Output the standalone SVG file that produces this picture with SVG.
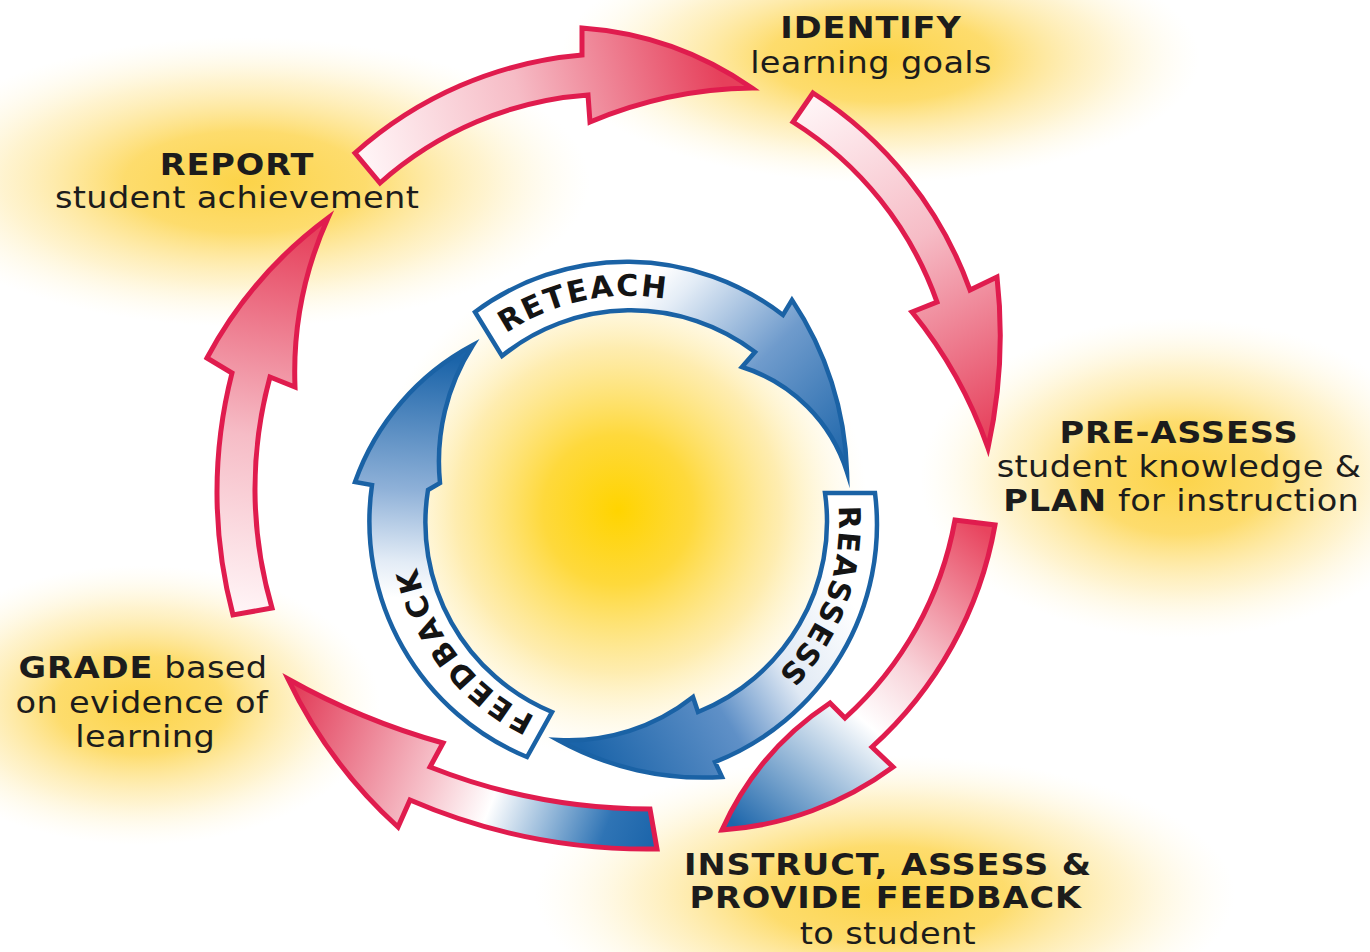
<svg xmlns="http://www.w3.org/2000/svg" width="1370" height="952" viewBox="0 0 1370 952">
<style>
.red{stroke:#e01c4e;stroke-width:5;stroke-linejoin:miter;stroke-miterlimit:10}
.blue{stroke:#1a62a5;stroke-width:4.5;stroke-linejoin:miter;stroke-miterlimit:10}
.lbl{font-family:"DejaVu Sans",Verdana,sans-serif;font-size:30px;fill:#1c1c1c;text-anchor:middle;letter-spacing:0.3px}
.b{font-weight:bold;letter-spacing:0.8px}
.ring{font-family:"DejaVu Sans",Verdana,sans-serif;font-weight:bold;font-size:30px;fill:#141414}
</style>
<defs>
<radialGradient id="glow">
<stop offset="0" stop-color="#fcd13f" stop-opacity="0.95"/>
<stop offset="0.35" stop-color="#fdd653" stop-opacity="0.85"/>
<stop offset="0.7" stop-color="#fee594" stop-opacity="0.45"/>
<stop offset="1" stop-color="#fff6d0" stop-opacity="0"/>
</radialGradient>
<radialGradient id="core">
<stop offset="0" stop-color="#ffd400"/>
<stop offset="0.3" stop-color="#fed93c"/>
<stop offset="0.65" stop-color="#fee89c" stop-opacity="0.8"/>
<stop offset="1" stop-color="#fff8dc" stop-opacity="0"/>
</radialGradient>
<linearGradient id="gTop" gradientUnits="userSpaceOnUse" x1="368" y1="168" x2="720" y2="72">
<stop offset="0" stop-color="#fff4f6"/><stop offset="0.45" stop-color="#f6bcc6"/><stop offset="1" stop-color="#e6405b"/>
</linearGradient>
<linearGradient id="gRight" gradientUnits="userSpaceOnUse" x1="803" y1="107" x2="985" y2="440">
<stop offset="0" stop-color="#fff4f6"/><stop offset="0.45" stop-color="#f6bcc6"/><stop offset="1" stop-color="#e6405b"/>
</linearGradient>
<linearGradient id="gLeft" gradientUnits="userSpaceOnUse" x1="252" y1="612" x2="318" y2="232">
<stop offset="0" stop-color="#fff4f6"/><stop offset="0.45" stop-color="#f6bcc6"/><stop offset="1" stop-color="#e6405b"/>
</linearGradient>
<linearGradient id="gRL" gradientUnits="userSpaceOnUse" x1="985" y1="530" x2="735" y2="825">
<stop offset="0" stop-color="#e8445e"/><stop offset="0.4" stop-color="#f8d4da"/><stop offset="0.58" stop-color="#ffffff"/><stop offset="1" stop-color="#1d66ab"/>
</linearGradient>
<linearGradient id="gBot" gradientUnits="userSpaceOnUse" x1="655" y1="830" x2="295" y2="690">
<stop offset="0" stop-color="#1d66ab"/><stop offset="0.12" stop-color="#2f74b5"/><stop offset="0.42" stop-color="#ffffff"/><stop offset="0.58" stop-color="#f7c6ce"/><stop offset="1" stop-color="#e23d59"/>
</linearGradient>
<linearGradient id="gRet" gradientUnits="userSpaceOnUse" x1="650" y1="280" x2="845" y2="470">
<stop offset="0" stop-color="#ffffff"/><stop offset="0.12" stop-color="#e3ecf6"/><stop offset="0.5" stop-color="#6f9bcc"/><stop offset="1" stop-color="#1b64a9"/>
</linearGradient>
<linearGradient id="gRea" gradientUnits="userSpaceOnUse" x1="850" y1="600" x2="590" y2="760">
<stop offset="0" stop-color="#ffffff"/><stop offset="0.3" stop-color="#e0e9f4"/><stop offset="0.55" stop-color="#5f90c7"/><stop offset="1" stop-color="#1b64a9"/>
</linearGradient>
<linearGradient id="gFee" gradientUnits="userSpaceOnUse" x1="430" y1="600" x2="445" y2="360">
<stop offset="0" stop-color="#ffffff"/><stop offset="0.15" stop-color="#e3ecf6"/><stop offset="0.45" stop-color="#8fb1d8"/><stop offset="1" stop-color="#1b64a9"/>
</linearGradient>
<path id="pRet" d="M411.1,485.4 A220,220 0 0 1 815.6,399.4"/>
<path id="pRea" d="M761.5,356.8 A217,217 0 0 1 622,740"/>
<path id="pFee" d="M694.1,726.3 A215,215 0 0 1 444.3,408.7"/>
</defs>
<rect width="1370" height="952" fill="#ffffff"/>
<g id="background">
<ellipse cx="880" cy="58" rx="320" ry="125" fill="url(#glow)"/>
<ellipse cx="245" cy="182" rx="345" ry="145" fill="url(#glow)"/>
<ellipse cx="1180" cy="478" rx="260" ry="160" fill="url(#glow)"/>
<ellipse cx="140" cy="705" rx="240" ry="140" fill="url(#glow)"/>
<ellipse cx="885" cy="895" rx="350" ry="140" fill="url(#glow)"/>
<circle cx="618" cy="510" r="250" fill="url(#core)"/>
</g>
<g id="connectors">
<path id="arrow-report-identify" class="red" fill="url(#gTop)" d="M355,153 A390,390 0 0 1 582,55 L582,28 A340,340 0 0 1 752,88 A430,430 0 0 0 590,122 L588,95 A350,350 0 0 0 380,183 Z"/>
<path id="arrow-identify-preassess" class="red" fill="url(#gRight)" d="M813,93 A390,390 0 0 1 970,290 L997,277 A525,525 0 0 1 988,448 A450,450 0 0 0 912,312 L937,302 A350,350 0 0 0 793,122 Z"/>
<path id="arrow-preassess-instruct" class="red" fill="url(#gRL)" d="M995,525 A390,390 0 0 1 872,747 L893,767 A325,325 0 0 1 722,830 A300,300 0 0 1 830,703 L845,718 A350,350 0 0 0 955,520 Z"/>
<path id="arrow-instruct-grade" class="red" fill="url(#gBot)" d="M657,849 A600,600 0 0 1 410,800 L398,827 A475,475 0 0 1 288,679 A700,700 0 0 0 443,743 L430,767 A600,600 0 0 0 650,809 Z"/>
<path id="arrow-grade-report" class="red" fill="url(#gLeft)" d="M233,615 A480,480 0 0 1 232,373 L207,358 A420,420 0 0 1 328,218 A375,375 0 0 0 295,387 L270,377 A425,425 0 0 0 272,608 Z"/>
<g id="reteach">
<path class="blue" fill="url(#gRet)" d="M475,312 A255,255 0 0 1 783,315 L792,300 A327,327 0 0 1 847,472 A160,160 0 0 0 742,367 L755,352 A205,205 0 0 0 502,356 Z"/>
<text class="ring" letter-spacing="2"><textPath href="#pRet" startOffset="50%" text-anchor="middle">RETEACH</textPath></text>
</g>
<g id="reassess">
<path class="blue" fill="url(#gRea)" d="M875,493 A255,255 0 0 1 715,762 L722,777 A300,300 0 0 1 558,740 A200,200 0 0 0 693,697 L698,712 A205,205 0 0 0 825,493 Z"/>
<text class="ring" letter-spacing="1.8"><textPath href="#pRea" startOffset="50%" text-anchor="middle">REASSESS</textPath></text>
</g>
<g id="feedback">
<path class="blue" fill="url(#gFee)" d="M527,757 A255,255 0 0 1 372,485 L355,482 A249,249 0 0 1 473,345 A216,216 0 0 0 440,483 L428,490 A205,205 0 0 0 552,712 Z"/>
<text class="ring" letter-spacing="2.7"><textPath href="#pFee" startOffset="50%" text-anchor="middle">FEEDBACK</textPath></text>
</g>
</g>
<g id="identify" transform="matrix(1.12,0,0,1,-104.5,0)">
<text class="lbl b" x="871" y="38">IDENTIFY</text>
<text class="lbl" x="871" y="73">learning goals</text>
</g>
<g id="preassess" transform="matrix(1.12,0,0,1,-141.5,0)">
<text class="lbl b" x="1179" y="443">PRE-ASSESS</text>
<text class="lbl" x="1179" y="477">student knowledge &amp;</text>
<text class="lbl" x="1181" y="511"><tspan font-weight="bold" letter-spacing="0.8">PLAN</tspan> for instruction</text>
</g>
<g id="instruct" transform="matrix(1.12,0,0,1,-106.6,0)">
<text class="lbl b" x="888" y="875">INSTRUCT, ASSESS &amp;</text>
<text class="lbl b" x="886" y="908">PROVIDE FEEDBACK</text>
<text class="lbl" x="888" y="944">to student</text>
</g>
<g id="grade" transform="matrix(1.12,0,0,1,-17.2,0)">
<text class="lbl" x="143" y="678"><tspan font-weight="bold" letter-spacing="0.8">GRADE</tspan> based</text>
<text class="lbl" x="142" y="713">on evidence of</text>
<text class="lbl" x="145" y="747">learning</text>
</g>
<g id="report" transform="matrix(1.12,0,0,1,-28.4,0)">
<text class="lbl b" x="237" y="175">REPORT</text>
<text class="lbl" x="237" y="208">student achievement</text>
</g>
</svg>
